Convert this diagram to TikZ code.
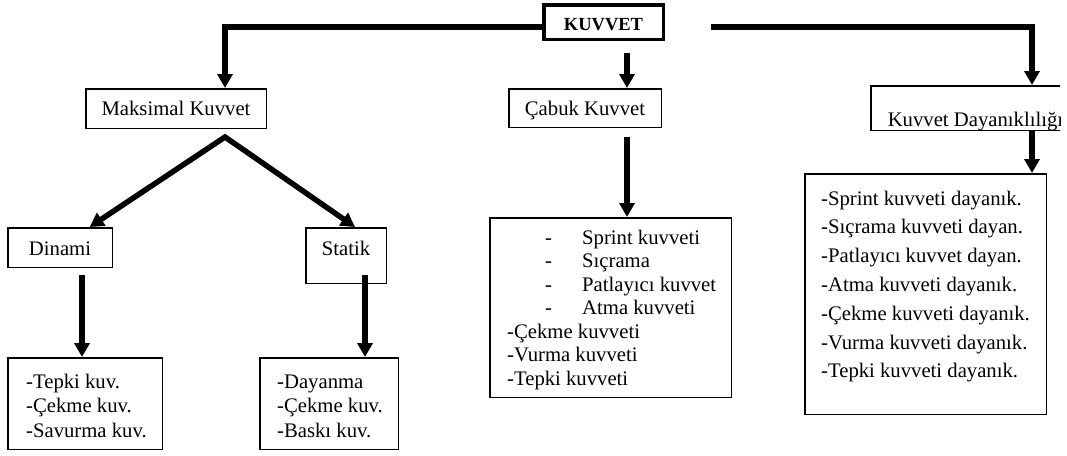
\documentclass[tikz,border=0pt]{standalone}
\usepackage{fontspec}
\setmainfont{Liberation Serif}
\usetikzlibrary{arrows.meta,calc}
\begin{document}
\begin{tikzpicture}[x=1pt,y=-1pt,
  conn/.style={line width=5.5pt, -{Triangle[width=15pt,length=14pt]}, line join=miter},
  box/.style={draw, line width=1.5pt, inner sep=0pt, text depth=0pt, font=\fontsize{20.7}{24}\selectfont},
  txt/.style={inner sep=0pt, anchor=base west, font=\fontsize{20.7}{24}\selectfont}]
\useasboundingbox (0,0) rectangle (1067,455);
\clip (0,0) rectangle (1060,455);

% boxes
\node[box, line width=3.5pt, minimum width=119.5, minimum height=34.5, text height=16pt,
  font=\bfseries\fontsize{18.5}{22}\selectfont] (kuv) at (603.5,22) {KUVVET};
\node[box, minimum width=180.5, minimum height=39.5, text height=13pt] (maks) at (176,108.5) {Maksimal Kuvvet};
\node[box, minimum width=152.5, minimum height=38.5, text height=14pt] (cab) at (585,108) {Çabuk Kuvvet};
\node[box, anchor=west, inner xsep=17pt, minimum height=44.5, text height=36pt] (kd) at (870,108) {Kuvvet Dayanıklılığı};
\node[box, minimum width=104.5, minimum height=39.5, text height=15pt] (din) at (60,247.5) {Dinami};
\node[box, minimum width=80.5, minimum height=55.5, text height=13pt, text depth=14pt] (stat) at (346,255.5) {Statik};

\node[box, minimum width=154.5, minimum height=91.5] (l1) at (85,403.5) {};
\node[box, minimum width=138.5, minimum height=91.5] (l2) at (329,403.5) {};
\node[box, minimum width=241.5, minimum height=179.5] (ml) at (610.5,307.5) {};
\node[box, minimum width=241.5, minimum height=240.5] (rl) at (925.5,294) {};

% list texts
\foreach \t [count=\i] in {{-Tepki kuv.},{-Çekme kuv.},{-Savurma kuv.}}
  \node[txt, name=la\i] at (26,{388+24.5*(\i-1)}) {\t};
\foreach \t [count=\i] in {{-Dayanma},{-Çekme kuv.},{-Baskı kuv.}}
  \node[txt, name=lb\i] at (277,{388+24.5*(\i-1)}) {\t};
\foreach \t [count=\i] in {{\makebox[75pt][l]{\hspace*{38pt}-}Sprint kuvveti},
    {\makebox[75pt][l]{\hspace*{38pt}-}Sıçrama},
    {\makebox[75pt][l]{\hspace*{38pt}-}Patlayıcı kuvvet},
    {\makebox[75pt][l]{\hspace*{38pt}-}Atma kuvveti},
    {-Çekme kuvveti},{-Vurma kuvveti},{-Tepki kuvveti}}
  \node[txt, name=mc\i] at (507,{244+23.5*(\i-1)}) {\t};
\foreach \t [count=\i] in {{-Sprint kuvveti dayanık.},{-Sıçrama kuvveti dayan.},
    {-Patlayıcı kuvvet dayan.},{-Atma kuvveti dayanık.},{-Çekme kuvveti dayanık.},
    {-Vurma kuvveti dayanık.},{-Tepki kuvveti dayanık.}}
  \node[txt, name=rc\i] at (821,{205+28.8*(\i-1)}) {\t};

% connectors
\coordinate (cL) at (225,27);
\draw[conn] (kuv.west |- cL) -- (cL) -- (cL |- maks.north);
\coordinate (cR) at (711,27);
\coordinate (cRc) at (1032,27);
\draw[conn] (cR) -- (cRc) -- (cRc |- kd.north);
\coordinate (cM) at (627,53);
\draw[conn] (cM) -- (cM |- cab.north);
\coordinate (cA) at (225,137);
\draw[conn, {Triangle[width=15pt,length=14pt]}-{Triangle[width=15pt,length=14pt]}]
  ($(din.north west)!0.78!(din.north east)$) -- (cA) -- ($(stat.north west)!0.61!(stat.north east)$);
\coordinate (cD) at (82,275);
\draw[conn] (cD) -- (cD |- l1.north);
\coordinate (cS) at (365,275);
\draw[conn] (cS) -- (cS |- l2.north);
\coordinate (cC) at (627,137);
\draw[conn] (cC) -- (cC |- ml.north);
\draw[conn] (kd.south -| cRc) -- (cRc |- rl.north);
\end{tikzpicture}
\end{document}
